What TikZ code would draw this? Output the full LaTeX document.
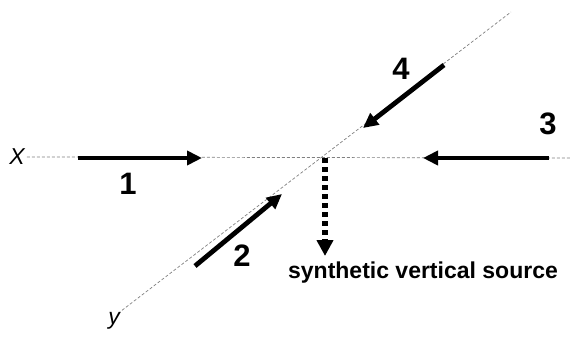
\documentclass[tikz,border=0pt]{standalone}
\usepackage{fontspec}
\setmainfont{Liberation Sans}
\usetikzlibrary{arrows.meta}

\begin{document}
\begin{tikzpicture}[x=1pt, y=-1pt,
    axis/.style={draw=gray, dash pattern=on 3pt off 2pt, line width=0.7pt},
    ray/.style={-{Triangle[length=15pt, width=14pt]}, line width=4.8pt},
    srcray/.style={-{Triangle[length=16pt, width=16pt]}, line width=5.5pt,
        dash pattern=on 5pt off 4pt},
    num/.style={font=\bfseries\fontsize{31}{31}\selectfont},
    axlabel/.style={font=\itshape\fontsize{23}{23}\selectfont}
]
    \useasboundingbox (0,0) rectangle (571,337);

    % axes
    \node[axlabel, inner sep=2pt] (xlab) at (17,157) {X};
    \node[axlabel, inner sep=2pt] (ylab) at (114,321) {y};
    \coordinate (xend) at (571,158);
    \coordinate (yend) at (511,12);
    \coordinate (cross) at (325,158);
    \draw[axis] (xlab.east) -- (xend);
    \draw[axis] (ylab.north east) -- (yend);

    % the four rays
    \coordinate (r1a) at (78,158);  \coordinate (r1b) at (202,158);
    \coordinate (r2a) at (195,266); \coordinate (r2b) at (282,194);
    \coordinate (r3a) at (549,158); \coordinate (r3b) at (423,158);
    \coordinate (r4a) at (444,65);  \coordinate (r4b) at (363,128);
    \draw[ray] (r1a) -- (r1b);
    \draw[ray] (r2a) -- (r2b);
    \draw[ray] (r3a) -- (r3b);
    \draw[ray] (r4a) -- (r4b);

    \node[num] (n1) at (128,184) {1};
    \node[num] (n2) at (242,256) {2};
    \node[num] (n3) at (548,124) {3};
    \node[num] (n4) at (401,69) {4};

    % virtual source
    \node[font=\bfseries\fontsize{23}{23}\selectfont] (src) at (423,273)
        {synthetic vertical source};
    \coordinate (srctip) at (325,256);
    \draw[srcray] (cross) -- (srctip);
\end{tikzpicture}
\end{document}
